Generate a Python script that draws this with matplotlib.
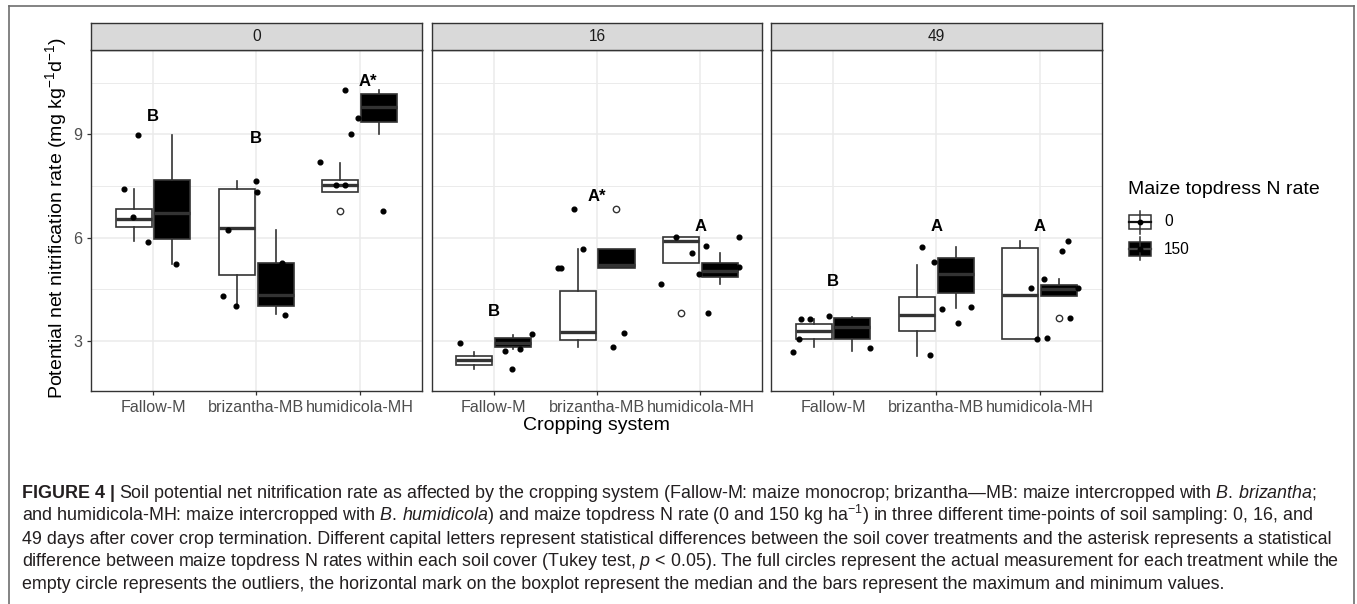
import matplotlib
matplotlib.use("Agg")
import matplotlib.pyplot as plt
from matplotlib.lines import Line2D
from matplotlib.patches import Rectangle

plt.rcParams["font.family"] = ["Liberation Sans", "DejaVu Sans"]
plt.rcParams["mathtext.fontset"] = "custom"
plt.rcParams["mathtext.rm"] = "Liberation Sans"
plt.rcParams["mathtext.it"] = "Liberation Sans:italic"
plt.rcParams["mathtext.bf"] = "Liberation Sans:bold"
plt.rcParams["mathtext.default"] = "regular"

days = ["0", "16", "49"]
systems = ["Fallow-M", "brizantha-MB", "humidicola-MH"]
n_rates = ["0", "150"]

# (lower whisker, q1, median, q3, upper whisker) for each day x system
box_n0 = [
    [(5.90, 6.32, 6.54, 6.82, 7.41), (4.02, 4.93, 6.29, 7.41, 7.64), (7.32, 7.32, 7.53, 7.69, 8.18)],
    [(2.19, 2.30, 2.45, 2.57, 2.69), (2.83, 3.04, 3.25, 4.46, 5.66), (5.27, 5.27, 5.90, 6.02, 6.02)],
    [(2.82, 3.05, 3.29, 3.49, 3.63), (2.58, 3.29, 3.75, 4.29, 5.20), (3.06, 3.06, 4.35, 5.69, 5.90)],
]
box_n150 = [
    [(5.25, 5.95, 6.71, 7.67, 8.98), (3.78, 4.03, 4.33, 5.27, 6.22), (9.01, 9.37, 9.80, 10.16, 10.29)],
    [(2.77, 2.83, 2.95, 3.08, 3.17), (5.11, 5.11, 5.20, 5.67, 5.67), (4.65, 4.87, 5.04, 5.26, 5.56)],
    [(2.71, 3.07, 3.42, 3.67, 3.71), (3.95, 4.40, 4.94, 5.42, 5.74), (4.30, 4.30, 4.50, 4.62, 4.79)],
]

outliers_n0 = [[[], [], [6.77]], [[], [], [3.82]], [[], [], []]]
outliers_n150 = [[[], [], []], [[], [6.83], []], [[], [], [3.67]]]

# measurements: (system index, jitter, value)
points = [
    [(0, -0.19, 6.61), (0, -0.28, 7.42), (0, -0.15, 8.98), (0, -0.05, 5.89), (0, 0.22, 5.25),
     (1, 0.00, 7.66), (1, 0.01, 7.34), (1, -0.27, 6.22), (1, -0.32, 4.31), (1, -0.20, 4.02),
     (1, 0.28, 3.77), (1, 0.25, 5.28),
     (2, -0.38, 8.19), (2, -0.23, 7.53), (2, -0.14, 7.53), (2, -0.14, 10.29), (2, -0.08, 9.01),
     (2, -0.02, 9.49), (2, 0.23, 6.77)],
    [(0, -0.33, 2.93), (0, 0.11, 2.71), (0, 0.18, 2.19), (0, 0.25, 2.76), (0, 0.37, 3.20),
     (1, -0.38, 5.12), (1, -0.35, 5.12), (1, -0.22, 6.83), (1, -0.14, 5.68), (1, 0.15, 2.82),
     (1, 0.26, 3.23),
     (2, -0.24, 6.02), (2, -0.08, 5.57), (2, 0.05, 5.76), (2, -0.38, 4.66), (2, -0.01, 4.94),
     (2, 0.37, 6.03), (2, 0.07, 3.82), (2, 0.37, 5.16)],
    [(0, -0.39, 2.69), (0, -0.33, 3.07), (0, -0.31, 3.63), (0, -0.22, 3.64), (0, -0.04, 3.73),
     (0, 0.36, 2.80),
     (1, -0.06, 2.59), (1, 0.05, 3.93), (1, -0.02, 5.29), (1, -0.14, 5.74), (1, 0.21, 3.53),
     (1, 0.34, 3.98),
     (2, -0.08, 4.53), (2, -0.03, 3.05), (2, 0.22, 5.62), (2, 0.27, 5.90), (2, 0.04, 4.80),
     (2, 0.07, 3.08), (2, 0.29, 3.67), (2, 0.37, 4.54)],
]

# Tukey letters: (system index, label, height)
letters = [
    [(0, "B", 9.51), (1, "B", 8.88), (2, "A*", 10.53)],
    [(0, "B", 3.85), (1, "A*", 7.19), (2, "A", 6.32)],
    [(0, "B", 4.72), (1, "A", 6.32), (2, "A", 6.32)],
]

W, H = 1357, 604
fig = plt.figure(figsize=(W / 100, H / 100), dpi=100)


def fx(px):
    return px / W


def fy(py):
    return 1 - py / H


panel_left = [91, 431.7, 771]
panel_w = 330.7
p_top, p_bot, s_top = 50, 391, 22.7
dark = "#333333"

for d, day in enumerate(days):
    ax = fig.add_axes([fx(panel_left[d]), fy(p_bot), panel_w / W, (p_bot - p_top) / H])

    for j, (table, outl, face) in enumerate([(box_n0, outliers_n0, "white"),
                                             (box_n150, outliers_n150, "black")]):
        stats = []
        for k in range(3):
            lo, q1, med, q3, hi = table[d][k]
            stats.append(dict(whislo=lo, q1=q1, med=med, q3=q3, whishi=hi, fliers=outl[d][k]))
        pos = [k + (j - 0.5) * 0.375 for k in range(3)]
        ax.bxp(stats, positions=pos, widths=0.35, patch_artist=True, showcaps=False,
               manage_ticks=False,
               boxprops=dict(facecolor=face, edgecolor=dark, lw=1.2),
               whiskerprops=dict(color=dark, lw=1.2),
               medianprops=dict(color=dark, lw=2.4),
               flierprops=dict(marker="o", mfc="white", mec=dark, ms=4.6, mew=1.0),
               zorder=2)

    xs = [k + dx for k, dx, v in points[d]]
    ys = [v for k, dx, v in points[d]]
    ax.plot(xs, ys, "o", color="black", ms=3.4, zorder=3, ls="none")

    for k, lab, v in letters[d]:
        shift = 0.08 if (d == 0 and lab == "A*") else 0.0
        ax.text(k + shift, v, lab, ha="center", va="center", fontsize=12, fontweight="bold",
                color="black", zorder=4)

    ax.set_xlim(-0.6, 2.6)
    ax.set_ylim(1.55, 11.45)
    ax.set_xticks(range(3))
    ax.set_xticklabels(systems)
    ax.set_yticks([3, 6, 9])
    ax.set_yticks([4.5, 7.5, 10.5], minor=True)
    ax.grid(True, which="major", color="#EBEBEB", lw=1.1, zorder=0)
    ax.grid(True, which="minor", axis="y", color="#EBEBEB", lw=0.7, zorder=0)
    ax.set_axisbelow(True)
    for sp in ax.spines.values():
        sp.set_color(dark)
        sp.set_linewidth(1.0)
    ax.tick_params(which="major", length=3, color=dark, labelcolor="#4D4D4D", labelsize=11.6,
                   width=0.9)
    ax.tick_params(which="minor", length=0)
    if d > 0:
        ax.tick_params(axis="y", left=False, labelleft=False)

    # facet strip
    sx = fig.add_axes([fx(panel_left[d]), fy(p_top), panel_w / W, (p_top - s_top) / H])
    sx.set_facecolor("#D9D9D9")
    sx.set_xticks([])
    sx.set_yticks([])
    for sp in sx.spines.values():
        sp.set_color(dark)
        sp.set_linewidth(1.0)
    sx.text(0.5, 0.5, day, ha="center", va="center", fontsize=11.2, color="#1A1A1A",
            transform=sx.transAxes)

fig.text(fx(56), fy(218), r"Potential net nitrification rate (mg kg$^{-1}$d$^{-1}$)",
         rotation=90, ha="center", va="center", fontsize=14)
fig.text(fx(596), fy(426), "Cropping system", ha="center", va="center", fontsize=14)

# legend
fig.text(fx(1128), fy(190), "Maize topdress N rate", ha="left", va="center", fontsize=14)
lg = fig.add_axes([fx(1120), fy(270), 50 / W, 70 / H])
lg.set_xlim(1120, 1170)
lg.set_ylim(270, 200)
lg.axis("off")
for (y0, face, med_c) in [(222, "white", "#111111"), (248.5, "black", "#444444")]:
    lg.add_line(Line2D([1140.2, 1140.2], [y0 - 11.5, y0 + 11.5], color=dark, lw=1.1))
    lg.add_patch(Rectangle((1129.3, y0 - 7), 21.7, 14, facecolor=face, edgecolor=dark, lw=1.1))
    lg.add_line(Line2D([1129.3, 1151], [y0, y0], color=med_c, lw=1.6))
    lg.plot([1140.2], [y0], "o", color="black", ms=3.2)
for y0, lab in zip([222, 249], n_rates):
    fig.text(fx(1164), fy(y0), lab, ha="left", va="center", fontsize=11.2)

# caption
cap_c = "#231F20"
cap_fs = 12.9
base = [498, 521, 544, 566.5, 589]
renderer = fig.canvas.get_renderer()
t = fig.text(fx(22), fy(base[0]), "FIGURE 4 |", fontsize=cap_fs, fontweight="bold",
             color=cap_c, va="baseline")
bw = t.get_window_extent(renderer=renderer).width
lines = [
    r"Soil potential net nitrification rate as affected by the cropping system (Fallow-M: maize "
    r"monocrop; brizantha—MB: maize intercropped with $\mathit{B.\,brizantha;}$",
    r"and humidicola-MH: maize intercropped with $\mathit{B.\,humidicola}$) and maize topdress N "
    r"rate (0 and 150 kg ha$^{-1}$) in three different time-points of soil sampling: 0, 16, and",
    "49 days after cover crop termination. Different capital letters represent statistical "
    "differences between the soil cover treatments and the asterisk represents a statistical",
    r"difference between maize topdress N rates within each soil cover (Tukey test, "
    r"$\mathit{p}$ < 0.05). The full circles represent the actual measurement for each treatment while the",
    "empty circle represents the outliers, the horizontal mark on the boxplot represent the "
    "median and the bars represent the maximum and minimum values.",
]
for i, line in enumerate(lines):
    x0 = 22 + bw + 4 if i == 0 else 22
    fig.text(fx(x0), fy(base[i]), line, fontsize=cap_fs, color=cap_c, va="baseline", ha="left")

# frame around figure and caption
frame_c = "#6E6E6E"
fig.add_artist(Line2D([fx(8.5), fx(8.5)], [fy(6), fy(604)], color=frame_c, lw=1.2))
fig.add_artist(Line2D([fx(1353.5), fx(1353.5)], [fy(6), fy(604)], color=frame_c, lw=1.2))
fig.add_artist(Line2D([fx(8.5), fx(1353.5)], [fy(6), fy(6)], color=frame_c, lw=1.2))

fig.savefig("out.png", dpi=100)
